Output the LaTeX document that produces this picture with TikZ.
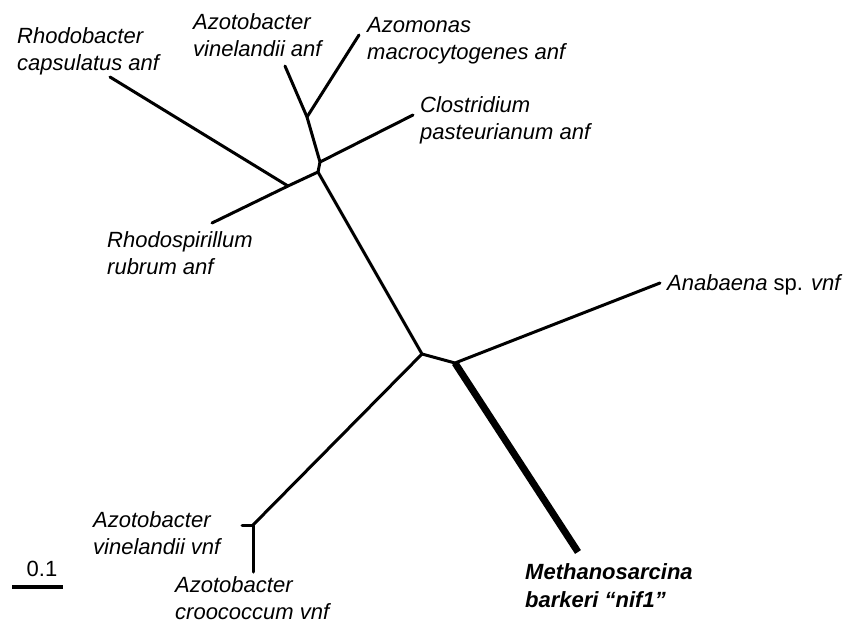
\documentclass[tikz,border=0pt]{standalone}
\usepackage{fontspec}
\setmainfont{Liberation Sans}
\begin{document}
\begin{tikzpicture}[x=1pt,y=-1pt,
  br/.style={line width=3pt,line cap=round,line join=round},
  thickbr/.style={line width=7pt,line cap=butt},
  lab/.style={anchor=base west,inner sep=0pt,align=left,font=\fontsize{22}{26.5}\selectfont\itshape},
]
\useasboundingbox (0,0) rectangle (846,624);
% tips and junctions
\coordinate (Rc) at (110,77);
\coordinate (D) at (288,186);
\coordinate (Rr) at (212,223);
\coordinate (C) at (318,172);
\coordinate (B) at (320,162);
\coordinate (A) at (307,117);
\coordinate (Ava) at (285,66);
\coordinate (Azm) at (359,35);
\coordinate (Cp) at (413,115);
\coordinate (E) at (422,354);
\coordinate (F) at (455,363);
\coordinate (An) at (660,283);
\coordinate (Mb) at (578,552);
\coordinate (G) at (253,525);
\coordinate (Avv) at (242,525);
\coordinate (Ac) at (253,572);
% branches
\draw[br] (Rc) -- (D);
\draw[br] (Rr) -- (D) -- (C);
\draw[br] (C) -- (B) -- (A) -- (Ava);
\draw[br] (A) -- (Azm);
\draw[br] (B) -- (Cp);
\draw[br] (C) -- (E) -- (F) -- (An);
\draw[br] (E) -- (G);
\draw[br] (Avv) -- (G) -- (Ac);
\draw[thickbr] (F) -- (Mb);
% labels (base anchor = baseline of the last line)
\node[lab] (LRc) at (17,70) {Rhodobacter\\capsulatus anf};
\node[lab] (LAva) at (193,56) {Azotobacter\\vinelandii anf};
\node[lab] (LAzm) at (367,59) {Azomonas\\macrocytogenes anf};
\node[lab] (LCp) at (420,139) {Clostridium\\pasteurianum anf};
\node[lab] (LRr) at (107,274) {Rhodospirillum\\rubrum anf};
\node[lab] (LAn) at (667,290) {Anabaena {\upshape sp.} vnf};
\node[lab] (LAvv) at (93,554) {Azotobacter\\vinelandii vnf};
\node[lab] (LAc) at (175,619) {Azotobacter\\croococcum vnf};
\node[lab,font=\fontsize{22}{27.5}\selectfont\bfseries\itshape] (LMb) at (525,607) {Methanosarcina\\barkeri “nif1”};
% scale bar
\coordinate (s1) at (12,587);
\coordinate (s2) at (63,587);
\draw[line width=4pt] (s1) -- (s2);
\node[anchor=base,inner sep=0pt,font=\fontsize{22}{26.5}\selectfont] (sc) at (42,576) {0.1};
\end{tikzpicture}
\end{document}
